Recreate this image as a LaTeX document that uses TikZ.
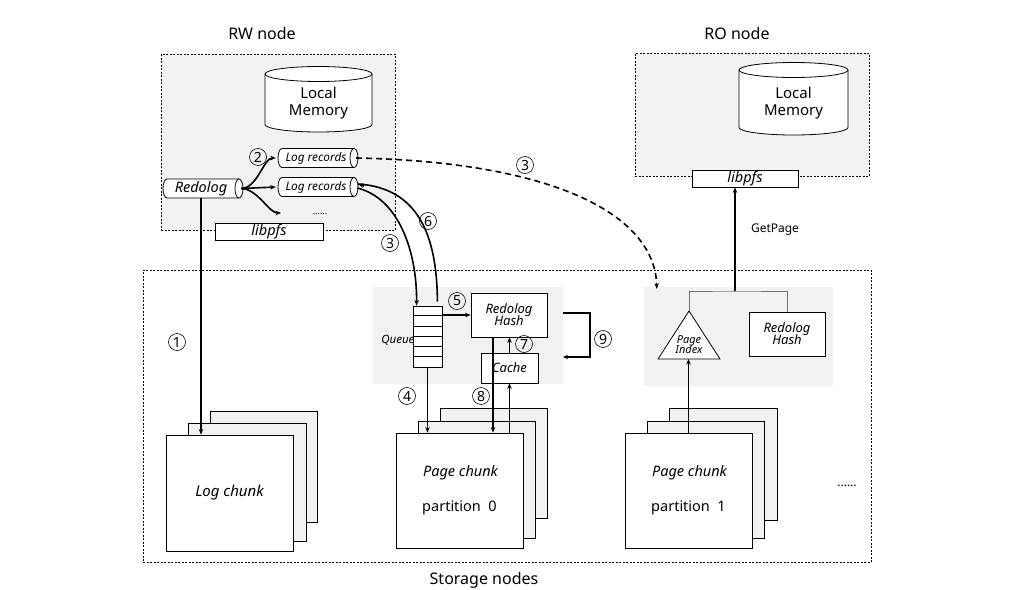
\documentclass[tikz,border=0pt]{standalone}
\usepackage{fontspec}
\setmainfont{Noto Sans}
\usetikzlibrary{arrows.meta,calc}
\definecolor{lg}{HTML}{F2F2F2}
\newcommand\fsz[1]{\fontsize{#1}{#1}\selectfont}
\newcommand\hcylat[3]{%
  \draw[cylline] (#1+#3/2-4,#2-9.5) -- (#1-#3/2+4,#2-9.5)
    arc[start angle=90,end angle=270,x radius=4pt,y radius=9.5pt]
    -- (#1+#3/2-4,#2+9.5)
    arc[start angle=270,end angle=450,x radius=4pt,y radius=9.5pt] -- cycle;
  \draw[cylline] (#1+#3/2-4,#2-9.5)
    arc[start angle=90,end angle=270,x radius=4pt,y radius=9.5pt];}
\begin{document}
\begin{tikzpicture}[x=1pt,y=-1pt,
  dbox/.style={draw, line width=0.6pt, dash pattern=on 2pt off 1.5pt, inner sep=0pt},
  area/.style={fill=lg, draw=none, inner sep=0pt},
  box/.style={draw, fill=white, line width=0.8pt, inner sep=0pt},
  backbox/.style={draw, fill=lg, line width=0.8pt},
  cylline/.style={draw, fill=white, line width=0.8pt},
  txt/.style={inner sep=0pt},
  title/.style={inner sep=0pt, font=\fsz{16}},
  arr/.style={line width=1.6pt, -{Stealth[length=5.5pt,width=4.5pt]}},
  thinarr/.style={line width=1.1pt, -{Stealth[length=5pt,width=4.5pt]}},
  tree/.style={draw=black!55, line width=0.8pt},
  circ/.style={circle, draw, line width=0.6pt, inner sep=0pt, minimum size=17pt, font=\fsz{14}}]
\useasboundingbox (0,0) rectangle (1022,589);

% ---------- containers ----------
\node[dbox, fill=lg, minimum width=234pt, minimum height=176pt] (rw) at (278,142) {};
\node[dbox, fill=lg, minimum width=234pt, minimum height=123pt] (ro) at (752,114.5) {};
\node[dbox, minimum width=728pt, minimum height=292pt] (st) at (507,416) {};
\node[area, minimum width=190pt, minimum height=97pt] (ma) at (468,335.5) {};
\node[area, minimum width=189pt, minimum height=99pt] (ra) at (738.5,336.5) {};

\node[title] (rwt) at (262,33) {RW node};
\node[title] (rot) at (737,33) {RO node};
\node[title, anchor=base] (stt) at (484,584) {Storage nodes};

% ---------- local memories ----------
\draw[cylline] (265,74) -- (265,124.5)
  arc[start angle=180,end angle=360,x radius=53.5pt,y radius=7.5pt] -- (372,74)
  arc[start angle=0,end angle=180,x radius=53.5pt,y radius=7.5pt] -- cycle;
\draw[line width=0.8pt] (265,74) arc[start angle=180,end angle=360,x radius=53.5pt,y radius=7.5pt];
\node[txt, align=center, font=\fsz{15}] (lmrw) at (318.5,103) {Local\\[2pt]Memory};

\draw[cylline] (739,70) -- (739,127.5)
  arc[start angle=180,end angle=360,x radius=54.5pt,y radius=7.5pt] -- (848,70)
  arc[start angle=0,end angle=180,x radius=54.5pt,y radius=7.5pt] -- cycle;
\draw[line width=0.8pt] (739,70) arc[start angle=180,end angle=360,x radius=54.5pt,y radius=7.5pt];
\node[txt, align=center, font=\fsz{15}] (lmro) at (793.5,103) {Local\\[2pt]Memory};

% ---------- RW node parts ----------
\hcylat{203}{188.5}{80}
\node[txt, minimum width=80pt, minimum height=19pt, font=\fsz{14.5}\itshape] (redolog) at (201,188.5) {Redolog};
\hcylat{318}{158}{80}
\node[txt, minimum width=80pt, minimum height=19pt, font=\fsz{11.8}\itshape] (lr1) at (316,158) {Log records};
\hcylat{318}{187}{80}
\node[txt, minimum width=80pt, minimum height=19pt, font=\fsz{11.8}\itshape] (lr2) at (316,187) {Log records};
\node[txt, font=\fsz{9}] (dots1) at (320,214) {......};
\coordinate (br3) at (281,213);
\node[box, minimum width=108pt, minimum height=17pt, font=\fsz{14.5}\itshape] (librw) at (269,231.5) {libpfs};

% ---------- RO node parts ----------
\node[box, minimum width=106pt, minimum height=17pt, font=\fsz{14.5}\itshape] (libro) at (745,178.5) {libpfs};
\node[txt, font=\fsz{12}] (getpage) at (775,230) {GetPage};

% ---------- middle storage parts ----------
\node[box, minimum width=29pt, minimum height=61pt] (q) at (427.5,336.5) {};
\foreach \i in {1,...,5} {
  \draw[line width=0.8pt] ($(q.north west)+(0,\i*10.17)$) -- ($(q.north east)+(0,\i*10.17)$);
}
\node[txt, anchor=east, font=\fsz{11.5}\bfseries\itshape] (qlab) at ($(q.west)+(2pt,-4pt)$) {Queue};
\node[box, minimum width=76pt, minimum height=44pt, align=center, font=\fsz{13}\itshape] (hm) at (509,315) {Redolog\\[-1pt]Hash};
\node[box, minimum width=57pt, minimum height=30pt, font=\fsz{13}\itshape] (cache) at (509.5,368) {Cache};
\coordinate (l9a) at (563,313);
\coordinate (l9b) at (563,357);
\coordinate (h8) at (493,337);

% ---------- right storage parts ----------
\coordinate (pia) at (689,311);
\coordinate (pib) at (689,359);
\draw[line width=0.8pt, fill=white] (pia) -- (720,359) -- (658,359) -- cycle;
\node[txt, align=center, font=\fsz{11}\itshape] (pidx) at (689,345) {Page\\[-1pt]Index};
\node[box, minimum width=76pt, minimum height=44pt, align=center, font=\fsz{13}\itshape] (hr) at (787,334) {Redolog\\[-1pt]Hash};
\coordinate (tj) at (735,291);
\draw[tree] (pia) |- (tj) -| (hr.north);

% ---------- chunk stacks ----------
\draw[backbox] (210,411) rectangle (317,522);
\draw[backbox] (188,423) rectangle (306,541);
\node[box, minimum width=127pt, minimum height=116pt, font=\fsz{15}\itshape] (lc) at (229.5,493) {Log chunk};

\draw[backbox] (440,408) rectangle (547,518);
\draw[backbox] (418,421) rectangle (535,538);
\node[box, minimum width=127pt, minimum height=115pt] (pc0) at (459.5,490.5) {};
\node[txt, font=\fsz{14.5}\itshape] (pc0a) at (460.5,473) {Page chunk};
\node[txt, font=\fsz{14.5}] (pc0b) at (459.5,508) {partition\ \ 0};

\draw[backbox] (669,408) rectangle (777,520);
\draw[backbox] (647,421) rectangle (764,538);
\node[box, minimum width=127pt, minimum height=115pt] (pc1) at (688.5,490.5) {};
\node[txt, font=\fsz{14.5}\itshape] (pc1a) at (689.5,473) {Page chunk};
\node[txt, font=\fsz{14.5}] (pc1b) at (688.5,508) {partition\ \ 1};
\node[txt, font=\fsz{12}] (dots2) at (847,486) {......};

% ---------- connectors ----------
\draw[arr] (redolog.south) -- (redolog.south |- lc.north);
\draw[arr] (redolog.east) .. controls +(16,0) and +(-12,0) .. (lr1.west);
\draw[arr] (redolog.east) -- (lr2.west);
\draw[arr] (redolog.east) .. controls +(16,0) and +(-12,0) .. (br3);

\draw[arr, dash pattern=on 6pt off 4pt] (lr1.east) .. controls (555,162) and (655,215) .. ($(ra.north west)+(13pt,-2pt)$);

\draw[arr] ($(lr2.east)+(1,1)$) .. controls (398,198) and (417,250) .. ($(q.north west)+(4pt,0)$);
\draw[arr, -] ($(q.north east)+(-5pt,4pt)$) .. controls (437,235) and (418,188) .. ($(lr2.east)+(2,-3)$);
\draw[arr] ($(lr2.east)+(8,-1)$) -- ($(lr2.east)+(2,-3)$);

\draw[arr] (q.east |- hm.west) -- (hm.west);
\draw[arr] (cache.north) -- (cache.north |- hm.south);
\draw[thinarr] (l9a) -- ++(27,0) |- (l9b);
\draw[arr] (q.south) -- (q.south |- pc0.north);
\draw[arr] (h8) -- (h8 |- pc0.north);
\draw[arr] (cache.south |- pc0.north) -- (cache.south);

\draw[arr] (pc1.north) -- (pc1.north |- pib);
\draw[arr] (tj) -- (tj |- libro.south);

% ---------- step labels ----------
\node[circ] (c1) at (177,342) {1};
\node[circ] (c2) at (258,157) {2};
\node[circ] (c3a) at (525,165) {3};
\node[circ] (c3b) at (390,243) {3};
\node[circ] (c6) at (428,221) {6};
\node[circ] (c5) at (457,301) {5};
\node[circ] (c7) at (524,344) {7};
\node[circ] (c9) at (603,339) {9};
\node[circ] (c4) at (407,396) {4};
\node[circ] (c8) at (481,396) {8};
\end{tikzpicture}
\end{document}
